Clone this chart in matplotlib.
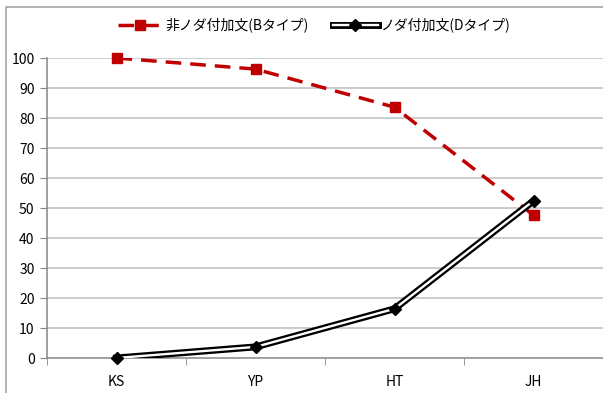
import numpy as np
import matplotlib
matplotlib.use("Agg")
import matplotlib.pyplot as plt
from matplotlib.lines import Line2D

plt.rcParams['font.family'] = ['Noto Sans CJK JP', 'DejaVu Sans']

categories = ['KS', 'YP', 'HT', 'JH']
type_b = [100, 96.3, 83.6, 47.6]   # 非ノダ付加文(Bタイプ)
type_d = [0, 3.7, 16.4, 52.4]      # ノダ付加文(Dタイプ)
label_b = '非ノダ付加文(Bタイプ)'
label_d = 'ノダ付加文(Dタイプ)'

W, H = 603, 393
fig = plt.figure(figsize=(W / 100, H / 100), dpi=100)
ax = fig.add_axes([47 / W, 35 / H, 556 / W, (358 - 58) / H])

x = np.arange(len(categories))
ax.set_xlim(-0.5, 3.5)
ax.set_ylim(0, 100)

# grid
for v in range(10, 101, 10):
    ax.axhline(v, color='#BEBEBE', lw=1.1, zorder=0)

red = '#C00000'
dash = (0, (4.5, 2.6))

# red dashed line
ax.plot(x, type_b, color=red, lw=2.5, linestyle=dash, dash_capstyle='butt',
        zorder=3)
ax.plot(x, type_b, 's', color=red, ms=6.5, zorder=5, clip_on=False)

# black double line
ax.plot(x, type_d, color='black', lw=5.0, solid_joinstyle='miter', zorder=3)
ax.plot(x, type_d, color='white', lw=1.7, solid_joinstyle='miter', zorder=4)
ax.plot(x, type_d, 'D', color='black', ms=6.5, zorder=5, clip_on=False)

# axes styling
for s in ['top', 'right']:
    ax.spines[s].set_visible(False)
for s in ['left', 'bottom']:
    ax.spines[s].set_color('#868686')
    ax.spines[s].set_linewidth(1.1)

ax.set_yticks(range(0, 101, 10))
ax.tick_params(axis='y', length=5, color='#868686', labelsize=10, pad=4)
ax.set_xticks(x)
ax.set_xticklabels(categories)
ax.set_xticks(np.arange(-0.5, 4, 1), minor=True)
ax.tick_params(axis='x', which='major', length=0, labelsize=10, pad=12)
ax.tick_params(axis='x', which='minor', length=5, color='#868686')

# legend
h_b = Line2D([], [], color=red, lw=2.5, linestyle=dash, marker='s', ms=6.5)
h_d1 = Line2D([], [], color='black', lw=5.0)
h_d2 = Line2D([], [], color='white', lw=1.7)
h_d3 = Line2D([], [], color='black', lw=0, marker='D', ms=6.5)
fig.legend([h_b, (h_d1, h_d2, h_d3)], [label_b, label_d], loc='center',
           bbox_to_anchor=(314 / W, 1 - 25 / H), ncol=2, frameon=False,
           fontsize=10, handlelength=3.2, handletextpad=0.2, columnspacing=1.8)

# chart border
fig.add_artist(Line2D([6 / W, 6 / W, 1], [0, 1 - 7 / H, 1 - 7 / H],
                      transform=fig.transFigure, color='#A6A6A6', lw=1.2))

fig.savefig('out.png', dpi=100)
